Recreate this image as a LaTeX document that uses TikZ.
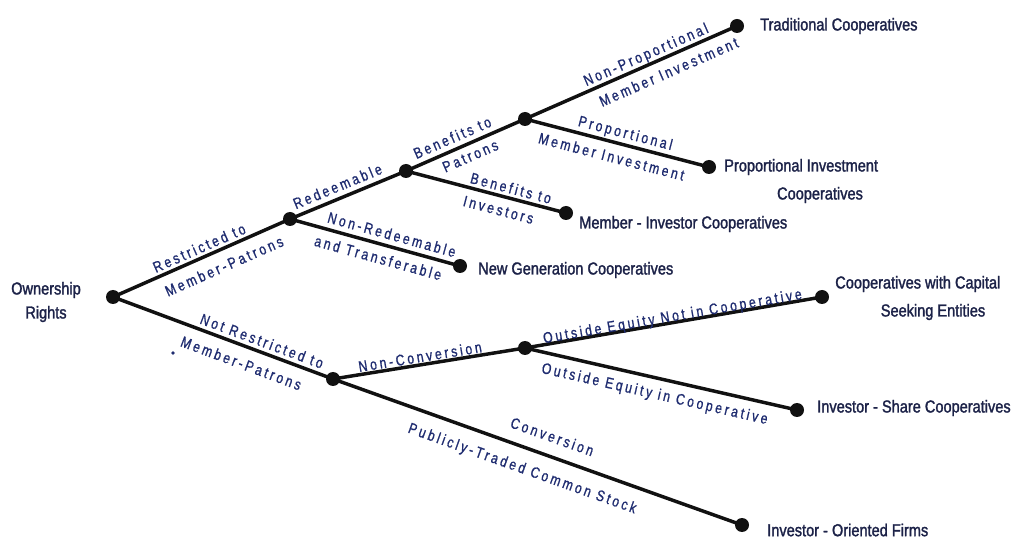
\documentclass[tikz,border=0pt]{standalone}
\usepackage{fontspec}
\newfontfamily\leaffont[FakeStretch=0.84,FakeBold=1.6]{Liberation Sans}
\newfontfamily\branchfont[FakeStretch=0.8,FakeBold=1.0,LetterSpace=18]{Liberation Sans}
\definecolor{ink}{HTML}{111111}
\definecolor{leafblue}{HTML}{1C2248}
\definecolor{branchblue}{HTML}{1F2C70}
\tikzset{
  dot/.style={circle, fill=ink, inner sep=0pt, minimum size=10.5pt},
  edge/.style={draw=ink, line width=2.6pt},
  leaf/.style={font=\leaffont\fontsize{13}{15}\selectfont, text=leafblue, inner sep=0pt},
  blab/.style={font=\branchfont\fontsize{11.5}{13}\selectfont, text=branchblue,
    sloped, inner sep=0pt, anchor=base},
}
\begin{document}
\begin{tikzpicture}[x=0.75pt, y=-0.75pt]
\useasboundingbox (0,0) rectangle (1011,538);

% branching points and end points
\node[dot] (root) at (113,297) {};
\node[dot] (restr) at (290,219) {};
\node[dot] (redeem) at (406,171) {};
\node[dot] (patron) at (525,119) {};
\node[dot] (trad) at (737,26) {};
\node[dot] (propinv) at (709,167) {};
\node[dot] (meminv) at (566,213) {};
\node[dot] (newgen) at (460,266) {};
\node[dot] (notrestr) at (333,379) {};
\node[dot] (nonconv) at (525,348) {};
\node[dot] (capseek) at (822,297) {};
\node[dot] (invshare) at (797,410) {};
\node[dot] (invfirm) at (742,525) {};

% connectors with their labels
\draw[edge] (root.center) --
  node[blab, pos=.51, yshift=3.5pt] {Restricted to}
  node[blab, pos=.59, yshift=-16.5pt] {Member-Patrons} (restr.center);
\draw[edge] (root.center) --
  node[blab, pos=.66, yshift=4pt] {Not Restricted to}
  node[blab, pos=.61, yshift=-17pt] {Member-Patrons} (notrestr.center);
\draw[edge] (restr.center) --
  node[blab, pos=.45, yshift=5pt] {Redeemable} (redeem.center);
\draw[edge] (restr.center) --
  node[blab, pos=.58, yshift=5pt] {Non-Redeemable}
  node[blab, pos=.54, yshift=-14.5pt] {and Transferable} (newgen.center);
\draw[edge] (redeem.center) --
  node[blab, pos=.43, yshift=5pt] {Benefits to}
  node[blab, pos=.5, yshift=-13pt] {Patrons} (patron.center);
\draw[edge] (redeem.center) --
  node[blab, pos=.64, yshift=3.5pt] {Benefits to}
  node[blab, pos=.6, yshift=-14.5pt] {Investors} (meminv.center);
\draw[edge] (patron.center) --
  node[blab, pos=.59, yshift=4pt] {Non-Proportional}
  node[blab, pos=.65, yshift=-15pt] {Member Investment} (trad.center);
\draw[edge] (patron.center) --
  node[blab, pos=.53, yshift=5pt] {Proportional}
  node[blab, pos=.49, yshift=-15pt] {Member Investment} (propinv.center);
\draw[edge] (notrestr.center) --
  node[blab, pos=.46, yshift=2pt] {Non-Conversion} (nonconv.center);
\draw[edge] (nonconv.center) --
  node[blab, pos=.5, yshift=1pt] {Outside Equity Not in Cooperative} (capseek.center);
\draw[edge] (nonconv.center) --
  node[blab, pos=.49, yshift=-15.5pt] {Outside Equity in Cooperative} (invshare.center);
\draw[edge] (notrestr.center) --
  node[blab, pos=.52, yshift=10.5pt] {Conversion}
  node[blab, pos=.48, yshift=-19pt] {Publicly-Traded Common Stock} (invfirm.center);

% end point descriptions
\node[leaf, align=center] (owner) at (46,302) {Ownership\\[3pt]Rights};
\node[leaf, anchor=west] (tradtxt) at (760,26) {Traditional Cooperatives};
\node[leaf, anchor=west] (proptxt) at (724,167) {Proportional Investment};
\node[leaf] (proptxtb) at (820,195) {Cooperatives};
\node[leaf, anchor=west] (memtxt) at (579,224) {Member - Investor Cooperatives};
\node[leaf, anchor=west] (newtxt) at (478,270) {New Generation Cooperatives};
\node[leaf, anchor=west] (captxt) at (835,284) {Cooperatives with Capital};
\node[leaf] (captxtb) at (933,312) {Seeking Entities};
\node[leaf, anchor=west] (sharetxt) at (817,408) {Investor - Share Cooperatives};
\node[leaf, anchor=west] (firmtxt) at (767,530) {Investor - Oriented Firms};

% small stray mark below the lower branch
\fill[branchblue] (173,353) circle (1.4pt);
\end{tikzpicture}
\end{document}
